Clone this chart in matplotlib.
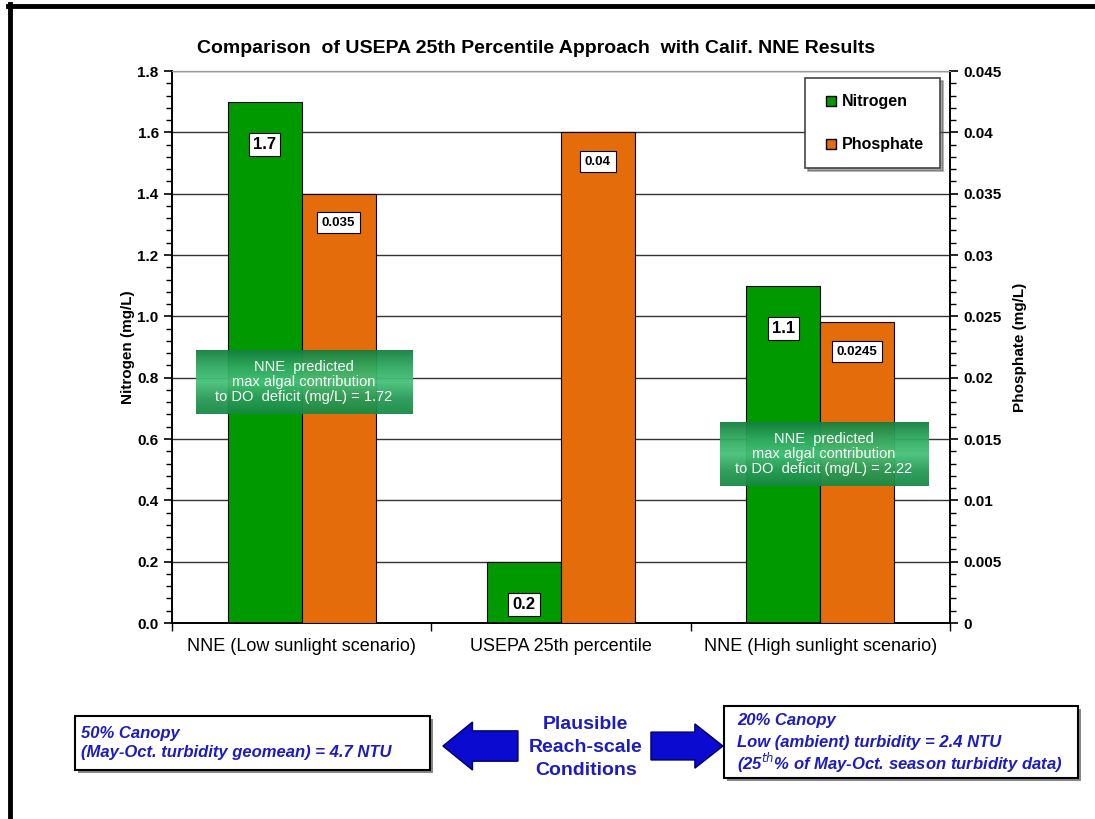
import numpy as np
import matplotlib.pyplot as plt
from matplotlib.lines import Line2D
from matplotlib.patches import Rectangle, FancyArrow
from matplotlib.colors import LinearSegmentedColormap

plt.rcParams['font.family'] = ['Liberation Sans', 'DejaVu Sans']

categories = ['NNE (Low sunlight scenario)', 'USEPA 25th percentile', 'NNE (High sunlight scenario)']
nitrogen = [1.7, 0.2, 1.1]
phosphate = [0.035, 0.04, 0.0245]
n_labels = ['1.7', '0.2', '1.1']
p_labels = ['0.035', '0.04', '0.0245']

green = '#009900'
orange = '#e46c0a'
blue = '#1c1cc0'

fig = plt.figure(figsize=(10.95, 8.19), dpi=100)
ax1 = fig.add_axes([0.157, 0.2393, 0.7106, 0.674])
ax2 = ax1.twinx()

x = np.arange(len(categories))
w = 0.285
ax1.bar(x - w/2, nitrogen, w, color=green, edgecolor='black', linewidth=0.8, zorder=3)
ax2.bar(x + w/2, phosphate, w, color=orange, edgecolor='black', linewidth=0.8, zorder=3)

# value labels in white boxes
for xi, v, s in zip(x, nitrogen, n_labels):
    ax1.annotate(s, (xi - w/2, v), xytext=(0, -31), textcoords='offset points',
                 ha='center', va='center', fontsize=12, fontweight='bold', zorder=5,
                 bbox=dict(boxstyle='square,pad=0.25', fc='white', ec='black', lw=0.8))
for xi, v, s in zip(x, phosphate, p_labels):
    ax2.annotate(s, (xi + w/2, v), xytext=(0, -21), textcoords='offset points',
                 ha='center', va='center', fontsize=9.5, fontweight='bold', zorder=5,
                 bbox=dict(boxstyle='square,pad=0.35', fc='white', ec='black', lw=0.8))

ax1.set_xlim(-0.5, 2.5)
ax1.set_ylim(0, 1.8)
ax2.set_ylim(0, 0.045)
ax1.set_yticks(np.arange(0, 1.81, 0.2))
ax1.set_yticks(np.arange(0, 1.81, 0.04), minor=True)
ax1.set_yticklabels(['%.1f' % t for t in np.arange(0, 1.81, 0.2)])
ax2.set_yticks(np.arange(0, 0.0451, 0.005))
ax2.set_yticks(np.arange(0, 0.0451, 0.001), minor=True)
ax2.set_yticklabels(['0', '0.005', '0.01', '0.015', '0.02', '0.025', '0.03', '0.035', '0.04', '0.045'])

ax1.set_xticks([-0.5, 0.5, 1.5, 2.5])
ax1.set_xticklabels([])
ax1.set_xticks(x, minor=True)
ax1.set_xticklabels(categories, minor=True, fontsize=13)
ax1.tick_params(axis='x', which='minor', length=0, pad=11)
ax1.tick_params(axis='x', which='major', length=6, width=1)
for ax in (ax1, ax2):
    ax.tick_params(axis='y', which='major', length=6, width=1.2, labelsize=11)
    ax.tick_params(axis='y', which='minor', length=4, width=1)
    for lab in ax.get_yticklabels():
        lab.set_fontweight('bold')

ax1.grid(axis='y', which='major', color='#333333', linewidth=1, zorder=0)
ax1.set_axisbelow(True)
for ax in (ax1, ax2):
    ax.spines['top'].set_color('#999999')
    for s in ('left', 'right', 'bottom'):
        ax.spines[s].set_linewidth(1.2)

ax1.set_ylabel('Nitrogen (mg/L)', fontsize=11, fontweight='bold', labelpad=2)
ax2.set_ylabel('Phosphate (mg/L)', fontsize=11, fontweight='bold', labelpad=8)
ax1.set_title('Comparison  of USEPA 25th Percentile Approach  with Calif. NNE Results',
              fontsize=14, fontweight='bold', pad=13, x=0.468)

handles = [Line2D([], [], marker='s', linestyle='none', markersize=7,
                  markerfacecolor=green, markeredgecolor='black'),
           Line2D([], [], marker='s', linestyle='none', markersize=7,
                  markerfacecolor=orange, markeredgecolor='black')]
leg = ax2.legend(handles, ['Nitrogen', 'Phosphate'], loc='upper right',
                 bbox_to_anchor=(0.987, 0.987), borderaxespad=0, fancybox=False, shadow=True,
                 prop=dict(size=11.5, weight='bold'), labelspacing=1.75,
                 handletextpad=0.1, borderpad=1.0, handlelength=1.2,
                 framealpha=1, edgecolor='#444444')
leg.get_frame().set_linewidth(1.2)
leg.set_zorder(10)

# green callout boxes
gcmap = LinearSegmentedColormap.from_list('g', ['#15803f', '#2fa860', '#46c27a', '#2a9c58', '#168a44'])
grad = np.linspace(0, 1, 100).reshape(-1, 1)
callouts = [([0.179, 0.4945, 0.1973, 0.0781], '1.72'),
            ([0.6575, 0.4066, 0.19, 0.0781], '2.22')]
for rect, val in callouts:
    cax = fig.add_axes(rect)
    cax.imshow(grad, aspect='auto', cmap=gcmap, extent=[0, 1, 0, 1], alpha=0.95)
    cax.set_axis_off()
    cax.text(0.5, 0.5, 'NNE  predicted\nmax algal contribution\nto DO  deficit (mg/L) = ' + val,
             ha='center', va='center', color='white', fontsize=10.5, linespacing=1.1)

# outer frame lines
fig.add_artist(Line2D([0.0095, 0.0095], [0, 0.995], color='black', lw=3.5))
fig.add_artist(Line2D([0.0075, 1], [0.993, 0.993], color='black', lw=3.5))

# bottom condition boxes
def cond_box(x0, y0, w0, h0):
    fig.add_artist(Rectangle((x0 + 0.003, y0 - 0.004), w0, h0, transform=fig.transFigure,
                             fc='#888888', ec='none'))
    fig.add_artist(Rectangle((x0, y0), w0, h0, transform=fig.transFigure,
                             fc='white', ec='black', lw=1.5))

cond_box(0.0685, 0.0598, 0.3242, 0.0659)
fig.text(0.074, 0.105, '50% Canopy', color=blue, fontsize=12, fontweight='bold',
         style='italic', va='center')
fig.text(0.074, 0.081, '(May-Oct. turbidity geomean) = 4.7 NTU', color=blue, fontsize=12,
         fontweight='bold', style='italic', va='center')

cond_box(0.661, 0.05, 0.3235, 0.0879)
fig.text(0.673, 0.12, '20% Canopy', color=blue, fontsize=12, fontweight='bold',
         style='italic', va='center')
fig.text(0.673, 0.094, 'Low (ambient) turbidity = 2.4 NTU', color=blue, fontsize=12,
         fontweight='bold', style='italic', va='center')
fig.text(0.673, 0.068, '(25$^{th}$% of May-Oct. season turbidity data)', color=blue,
         fontsize=12, fontweight='bold', style='italic', va='center')

fig.text(0.535, 0.087, 'Plausible\nReach-scale\nConditions', color=blue, fontsize=14,
         fontweight='bold', ha='center', va='center', linespacing=1.45)

fig.add_artist(FancyArrow(0.473, 0.0891, -0.0685, 0, width=0.037, head_width=0.0586,
                          head_length=0.027, length_includes_head=True,
                          transform=fig.transFigure, fc='#0a0ad0', ec='#000060', lw=1))
fig.add_artist(FancyArrow(0.5945, 0.0891, 0.0657, 0, width=0.034, head_width=0.054,
                          head_length=0.0256, length_includes_head=True,
                          transform=fig.transFigure, fc='#0a0ad0', ec='#000060', lw=1))

fig.savefig('out.png', dpi=100)
